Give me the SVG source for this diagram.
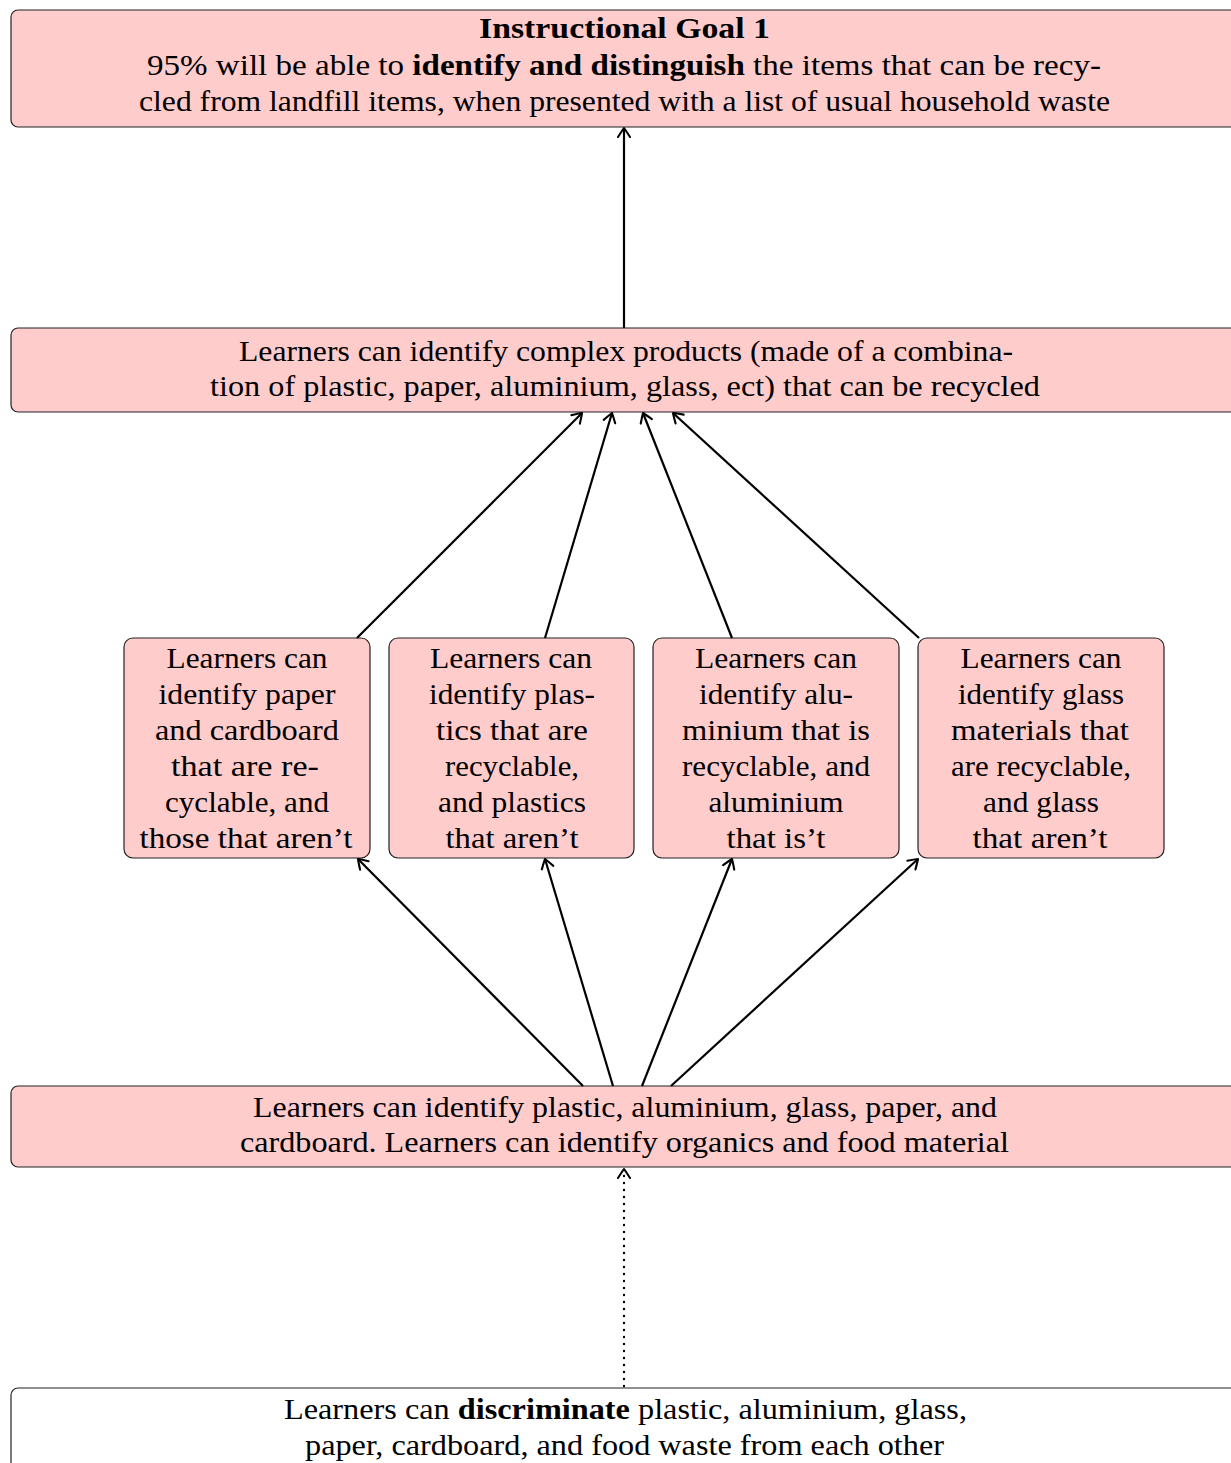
<svg xmlns="http://www.w3.org/2000/svg" width="1231" height="1463" viewBox="0 0 1231 1463">
<style>
.box{fill:#ffcccc;stroke:#222;stroke-width:1.2}
.wbox{fill:#ffffff;stroke:#222;stroke-width:1.2}
text{font-family:'Liberation Serif','DejaVu Serif',serif;font-size:30px;fill:#000;text-anchor:middle}
.b{font-weight:bold}
.edge{stroke:#000;stroke-width:2.2;fill:none;marker-end:url(#arr)}
.dot{stroke:#000;stroke-width:2.4;fill:none;stroke-dasharray:0 7;stroke-linecap:round;marker-end:url(#arr)}
</style>
<defs>
<marker id="arr" markerUnits="userSpaceOnUse" markerWidth="18" markerHeight="18" refX="13" refY="9" orient="auto" overflow="visible">
<path d="M4,3 Q10,6.8 13,9 Q10,11.2 4,15" fill="none" stroke="#000" stroke-width="2.1" stroke-linecap="round" stroke-linejoin="round"/>
</marker>
</defs>
<rect width="1231" height="1463" fill="#ffffff"/>

<g id="goal">
<rect class="box" x="11" y="10" width="1227" height="117" rx="7"/>
<text x="624.5" y="38" class="b" textLength="291" lengthAdjust="spacingAndGlyphs">Instructional Goal 1</text>
<text x="624" y="75" textLength="954" lengthAdjust="spacingAndGlyphs">95% will be able to <tspan class="b">identify and distinguish</tspan> the items that can be recy-</text>
<text x="624.5" y="111" textLength="971" lengthAdjust="spacingAndGlyphs">cled from landfill items, when presented with a list of usual household waste</text>
</g>

<g id="complex">
<rect class="box" x="11" y="328" width="1227" height="84" rx="7"/>
<text x="626" y="361" textLength="774" lengthAdjust="spacingAndGlyphs">Learners can identify complex products (made of a combina-</text>
<text x="625" y="396" textLength="830" lengthAdjust="spacingAndGlyphs">tion of plastic, paper, aluminium, glass, ect) that can be recycled</text>
</g>

<g id="paper">
<rect class="box" x="124" y="638" width="246" height="220" rx="9"/>
<text x="247" y="668" textLength="161" lengthAdjust="spacingAndGlyphs">Learners can</text>
<text x="247" y="704" textLength="177" lengthAdjust="spacingAndGlyphs">identify paper</text>
<text x="247" y="740" textLength="184" lengthAdjust="spacingAndGlyphs">and cardboard</text>
<text x="245" y="776" textLength="148" lengthAdjust="spacingAndGlyphs">that are re-</text>
<text x="247" y="812" textLength="164" lengthAdjust="spacingAndGlyphs">cyclable, and</text>
<text x="246" y="848" textLength="213" lengthAdjust="spacingAndGlyphs">those that aren’t</text>
</g>

<g id="plastics">
<rect class="box" x="389" y="638" width="245" height="220" rx="9"/>
<text x="511" y="668" textLength="162" lengthAdjust="spacingAndGlyphs">Learners can</text>
<text x="512" y="704" textLength="166" lengthAdjust="spacingAndGlyphs">identify plas-</text>
<text x="512" y="740" textLength="152" lengthAdjust="spacingAndGlyphs">tics that are</text>
<text x="512" y="776" textLength="134" lengthAdjust="spacingAndGlyphs">recyclable,</text>
<text x="512" y="812" textLength="148" lengthAdjust="spacingAndGlyphs">and plastics</text>
<text x="512" y="848" textLength="133" lengthAdjust="spacingAndGlyphs">that aren’t</text>
</g>

<g id="aluminium">
<rect class="box" x="653" y="638" width="246" height="220" rx="9"/>
<text x="776" y="668" textLength="162" lengthAdjust="spacingAndGlyphs">Learners can</text>
<text x="776" y="704" textLength="154" lengthAdjust="spacingAndGlyphs">identify alu-</text>
<text x="776" y="740" textLength="188" lengthAdjust="spacingAndGlyphs">minium that is</text>
<text x="776" y="776" textLength="188" lengthAdjust="spacingAndGlyphs">recyclable, and</text>
<text x="776" y="812" textLength="135" lengthAdjust="spacingAndGlyphs">aluminium</text>
<text x="776" y="848" textLength="99" lengthAdjust="spacingAndGlyphs">that is’t</text>
</g>

<g id="glass">
<rect class="box" x="918" y="638" width="246" height="220" rx="9"/>
<text x="1041" y="668" textLength="161" lengthAdjust="spacingAndGlyphs">Learners can</text>
<text x="1041" y="704" textLength="166" lengthAdjust="spacingAndGlyphs">identify glass</text>
<text x="1040" y="740" textLength="178" lengthAdjust="spacingAndGlyphs">materials that</text>
<text x="1041" y="776" textLength="180" lengthAdjust="spacingAndGlyphs">are recyclable,</text>
<text x="1041" y="812" textLength="116" lengthAdjust="spacingAndGlyphs">and glass</text>
<text x="1040" y="848" textLength="135" lengthAdjust="spacingAndGlyphs">that aren’t</text>
</g>

<g id="identify">
<rect class="box" x="11" y="1086" width="1227" height="81" rx="7"/>
<text x="625" y="1117" textLength="744" lengthAdjust="spacingAndGlyphs">Learners can identify plastic, aluminium, glass, paper, and</text>
<text x="624.5" y="1152" textLength="769" lengthAdjust="spacingAndGlyphs">cardboard. Learners can identify organics and food material</text>
</g>

<g id="discriminate">
<rect class="wbox" x="11" y="1388" width="1227" height="100" rx="7"/>
<text x="625.5" y="1419" textLength="683" lengthAdjust="spacingAndGlyphs">Learners can <tspan class="b">discriminate</tspan> plastic, aluminium, glass,</text>
<text x="624.5" y="1455" textLength="639" lengthAdjust="spacingAndGlyphs">paper, cardboard, and food waste from each other</text>
</g>

<g id="connectors">
<line class="edge" x1="624" y1="328" x2="624" y2="128"/>
<line class="edge" x1="357" y1="638" x2="582" y2="413"/>
<line class="edge" x1="545" y1="638" x2="612" y2="413"/>
<line class="edge" x1="732" y1="638" x2="643" y2="413"/>
<line class="edge" x1="919" y1="638" x2="673" y2="413"/>
<line class="edge" x1="583" y1="1086" x2="358" y2="859"/>
<line class="edge" x1="613" y1="1086" x2="545" y2="859"/>
<line class="edge" x1="642" y1="1086" x2="732" y2="859"/>
<line class="edge" x1="671" y1="1086" x2="918" y2="859"/>
<line class="dot" x1="624" y1="1386" x2="624" y2="1169"/>
</g>
</svg>
